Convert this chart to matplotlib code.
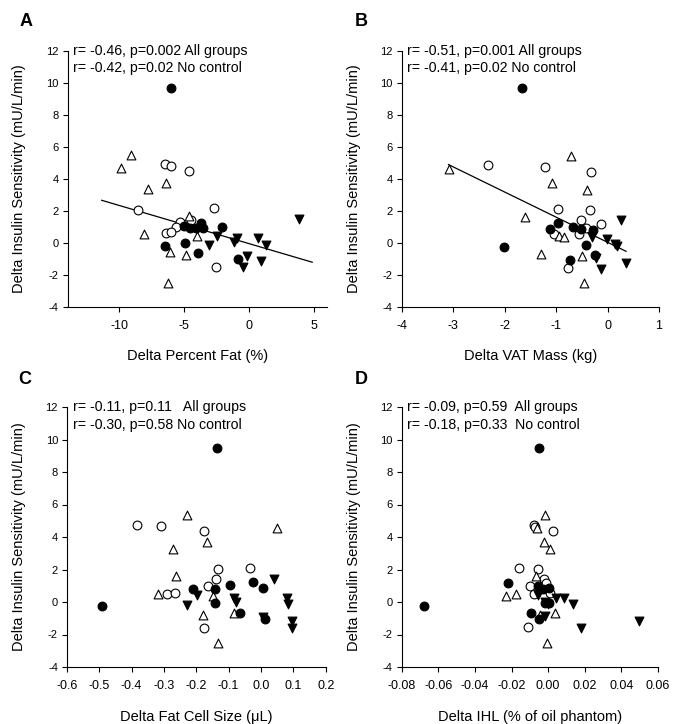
import matplotlib
matplotlib.use('Agg')
import matplotlib.pyplot as plt
import numpy as np

plt.rcParams['font.family'] = ['Liberation Sans', 'DejaVu Sans']
plt.rcParams['axes.unicode_minus'] = False

# ---------------- DATA ----------------
# groups: filled circles, open circles, open triangles, filled down triangles
# Panel A: Delta Percent Fat (%)
A_fc_x = [-6.0, -5.01, -4.57, -4.11, -3.70, -3.54, -2.07, -6.51, -4.94, -3.93, -0.88]
A_fc_y = [9.68, 1.08, 0.91, 0.91, 1.28, 0.93, 0.97, -0.17, 0.0, -0.60, -0.99]
A_oc_x = [-6.51, -6.0, -4.65, -8.6, -2.74, -5.3, -4.5, -5.66, -6.38, -6.0, -2.58]
A_oc_y = [4.91, 4.81, 4.48, 2.09, 2.2, 1.33, 1.43, 1.02, 0.62, 0.70, -1.49]
A_ot_x = [-9.12, -9.87, -6.38, -7.83, -4.63, -8.14, -4.03, -6.1, -4.88, -6.23]
A_ot_y = [5.49, 4.66, 3.77, 3.36, 1.70, 0.56, 0.41, -0.58, -0.77, -2.49]
A_ft_x = [3.88, -2.5, -3.07, -1.19, -0.9, 0.72, 1.29, -0.2, -0.44, 0.9]
A_ft_y = [1.49, 0.46, -0.12, 0.08, 0.31, 0.31, -0.10, -0.83, -1.51, -1.12]
A_fit_x = [-11.37, 4.86]
A_fit_y = [2.67, -1.20]

# Panel B: Delta VAT Mass (kg)
B_fc_x = [-1.67, -2.01, -0.97, -1.12, -0.67, -0.52, -0.28, -0.41, -0.24, -0.73]
B_fc_y = [9.67, -0.23, 1.23, 0.90, 1.02, 0.88, 0.83, -0.10, -0.73, -1.04]
B_oc_x = [-2.33, -1.22, -0.33, -0.97, -0.35, -0.51, -0.13, -0.42, -1.05, -0.56, -0.76]
B_oc_y = [4.88, 4.77, 4.44, 2.15, 2.04, 1.42, 1.21, 0.94, 0.54, 0.56, -1.56]
B_ot_x = [-3.09, -0.71, -1.08, -0.40, -1.61, -0.94, -0.84, -1.29, -0.49, -0.46]
B_ot_y = [4.63, 5.44, 3.75, 3.33, 1.65, 0.44, 0.35, -0.69, -0.83, -2.52]
B_ft_x = [0.27, -0.30, -0.01, 0.15, 0.19, -0.22, -0.12, 0.36]
B_ft_y = [1.44, 0.40, 0.25, -0.06, -0.21, -0.94, -1.60, -1.23]
B_fit_x = [-3.09, 0.36]
B_fit_y = [4.90, -0.52]

# Panel C: Delta Fat Cell Size (uL)
C_fc_x = [-0.135, -0.492, -0.211, -0.141, -0.095, -0.025, 0.006, -0.143, -0.064, 0.012]
C_fc_y = [9.47, -0.27, 0.82, 0.80, 1.02, 1.21, 0.88, -0.08, -0.70, -1.06]
C_oc_x = [-0.384, -0.309, -0.175, -0.132, -0.033, -0.140, -0.163, -0.291, -0.267, -0.175]
C_oc_y = [4.76, 4.66, 4.36, 2.02, 2.11, 1.39, 0.96, 0.49, 0.57, -1.57]
C_ot_x = [-0.229, 0.048, -0.167, -0.272, -0.262, -0.319, -0.149, -0.178, -0.083, -0.133]
C_ot_y = [5.36, 4.54, 3.68, 3.27, 1.62, 0.47, 0.39, -0.82, -0.65, -2.50]
C_ft_x = [0.040, -0.199, -0.230, -0.085, -0.076, 0.081, 0.082, 0.006, 0.097, 0.096]
C_ft_y = [1.43, 0.41, -0.16, 0.22, -0.02, 0.25, -0.14, -0.90, -1.19, -1.57]

# Panel D: Delta IHL (% of oil phantom)
D_fc_x = [-0.0051, -0.0676, -0.0218, -0.0058, -0.0027, 0.0007, -0.0018, 0.0004, -0.0093, -0.0049]
D_fc_y = [9.47, -0.27, 1.19, 0.98, 0.82, 0.88, -0.04, -0.04, -0.68, -1.06]
D_oc_x = [-0.0080, -0.0073, 0.0025, -0.0160, -0.0055, -0.0025, -0.0011, -0.0100, -0.0078, 0.0009, -0.0109]
D_oc_y = [4.76, 4.64, 4.38, 2.11, 2.02, 1.39, 1.15, 0.96, 0.51, 0.57, -1.56]
D_ot_x = [-0.0018, -0.0062, -0.0025, 0.0011, -0.0067, -0.0231, -0.0178, 0.0040, -0.0044, -0.0007]
D_ot_y = [5.36, 4.56, 3.68, 3.27, 1.62, 0.37, 0.47, -0.65, -0.82, -2.50]
D_ft_x = [-0.0058, 0.0042, 0.0089, 0.0135, -0.0018, -0.0002, -0.0016, 0.0180, 0.0498]
D_ft_y = [0.43, 0.25, 0.25, -0.14, -0.02, -0.14, -0.88, -1.57, -1.19]

y_ticks = [-4, -2, 0, 2, 4, 6, 8, 10, 12]
A_xticks = [-10, -5, 0, 5]
B_xticks = [-4, -3, -2, -1, 0, 1]
C_xticks = [-0.6, -0.5, -0.4, -0.3, -0.2, -0.1, 0.0, 0.1, 0.2]
C_xticklabels = ['-0.6', '-0.5', '-0.4', '-0.3', '-0.2', '-0.1', '0.0', '0.1', '0.2']
D_xticks = [-0.08, -0.06, -0.04, -0.02, 0.0, 0.02, 0.04, 0.06]
D_xticklabels = ['-0.08', '-0.06', '-0.04', '-0.02', '0.00', '0.02', '0.04', '0.06']

ylabel = 'Delta Insulin Sensitivity (mU/L/min)'

# ---------------- FIGURE ----------------
W, H = 685, 724
fig = plt.figure(figsize=(W / 100, H / 100), dpi=100)


def px_axes(left, right, top, bottom):
    # pixel box -> figure fraction
    return fig.add_axes([left / W, 1 - bottom / H, (right - left) / W, (bottom - top) / H])


def setup(ax, xlim, xticks, xticklabels, xlabel, lines):
    ax.set_xlim(*xlim)
    ax.set_ylim(-4, 12)
    ax.set_yticks(y_ticks)
    ax.set_xticks(xticks)
    if xticklabels is not None:
        ax.set_xticklabels(xticklabels)
    for s in ['top', 'right']:
        ax.spines[s].set_visible(False)
    for s in ['left', 'bottom']:
        ax.spines[s].set_linewidth(0.8)
    ax.tick_params(axis='y', direction='out', length=3.5, width=0.8, labelsize=8, pad=3)
    ax.tick_params(axis='x', direction='out', length=3.5, width=0.8, labelsize=9, pad=6)
    ax.set_xlabel(xlabel, fontsize=10.5)
    ax.xaxis.set_label_coords(0.5, -0.165)
    ax.set_ylabel(ylabel, fontsize=10.5)
    ax.yaxis.set_label_coords(-0.158, 0.5)
    ax.text(0.022, 1.0, lines[0], transform=ax.transAxes, fontsize=10.2, va='center', ha='left')
    ax.text(0.022, 0.932, lines[1], transform=ax.transAxes, fontsize=10.2, va='center', ha='left')


def draw(ax, fc, oc, ot, ft):
    ms = 40
    ax.scatter(oc[0], oc[1], s=ms, marker='o', facecolors='white', edgecolors='black', linewidths=0.8, zorder=3)
    ax.scatter(ot[0], ot[1], s=ms, marker='^', facecolors='white', edgecolors='black', linewidths=0.8, zorder=3)
    ax.scatter(fc[0], fc[1], s=ms, marker='o', facecolors='black', edgecolors='black', linewidths=0.8, zorder=4)
    ax.scatter(ft[0], ft[1], s=ms, marker='v', facecolors='black', edgecolors='black', linewidths=0.8, zorder=4)


axA = px_axes(67.5, 327, 51, 307)
draw(axA, (A_fc_x, A_fc_y), (A_oc_x, A_oc_y), (A_ot_x, A_ot_y), (A_ft_x, A_ft_y))
axA.plot(A_fit_x, A_fit_y, color='black', lw=0.9, zorder=2)
setup(axA, (-14, 6), A_xticks, None, 'Delta Percent Fat (%)',
      ['r= -0.46, p=0.002 All groups', 'r= -0.42, p=0.02 No control'])

axB = px_axes(401.7, 659, 51, 307)
draw(axB, (B_fc_x, B_fc_y), (B_oc_x, B_oc_y), (B_ot_x, B_ot_y), (B_ft_x, B_ft_y))
axB.plot(B_fit_x, B_fit_y, color='black', lw=0.9, zorder=2)
setup(axB, (-4, 1), B_xticks, None, 'Delta VAT Mass (kg)',
      ['r= -0.51, p=0.001 All groups', 'r= -0.41, p=0.02 No control'])

axC = px_axes(67, 325.7, 407, 667)
draw(axC, (C_fc_x, C_fc_y), (C_oc_x, C_oc_y), (C_ot_x, C_ot_y), (C_ft_x, C_ft_y))
setup(axC, (-0.6, 0.2), C_xticks, C_xticklabels, 'Delta Fat Cell Size (\u03bcL)',
      ['r= -0.11, p=0.11   All groups', 'r= -0.30, p=0.58 No control'])

axD = px_axes(401.7, 658, 407, 667)
draw(axD, (D_fc_x, D_fc_y), (D_oc_x, D_oc_y), (D_ot_x, D_ot_y), (D_ft_x, D_ft_y))
setup(axD, (-0.08, 0.06), D_xticks, D_xticklabels, 'Delta IHL (% of oil phantom)',
      ['r= -0.09, p=0.59  All groups', 'r= -0.18, p=0.33  No control'])

# panel letters
for lbl, (px, py) in zip(['A', 'B', 'C', 'D'], [(26.5, 21), (361, 22), (24.5, 380), (361, 380)]):
    fig.text(px / W, 1 - py / H, lbl, fontsize=13, fontweight='bold', ha='center', va='center')

fig.savefig('out.png', dpi=100)
